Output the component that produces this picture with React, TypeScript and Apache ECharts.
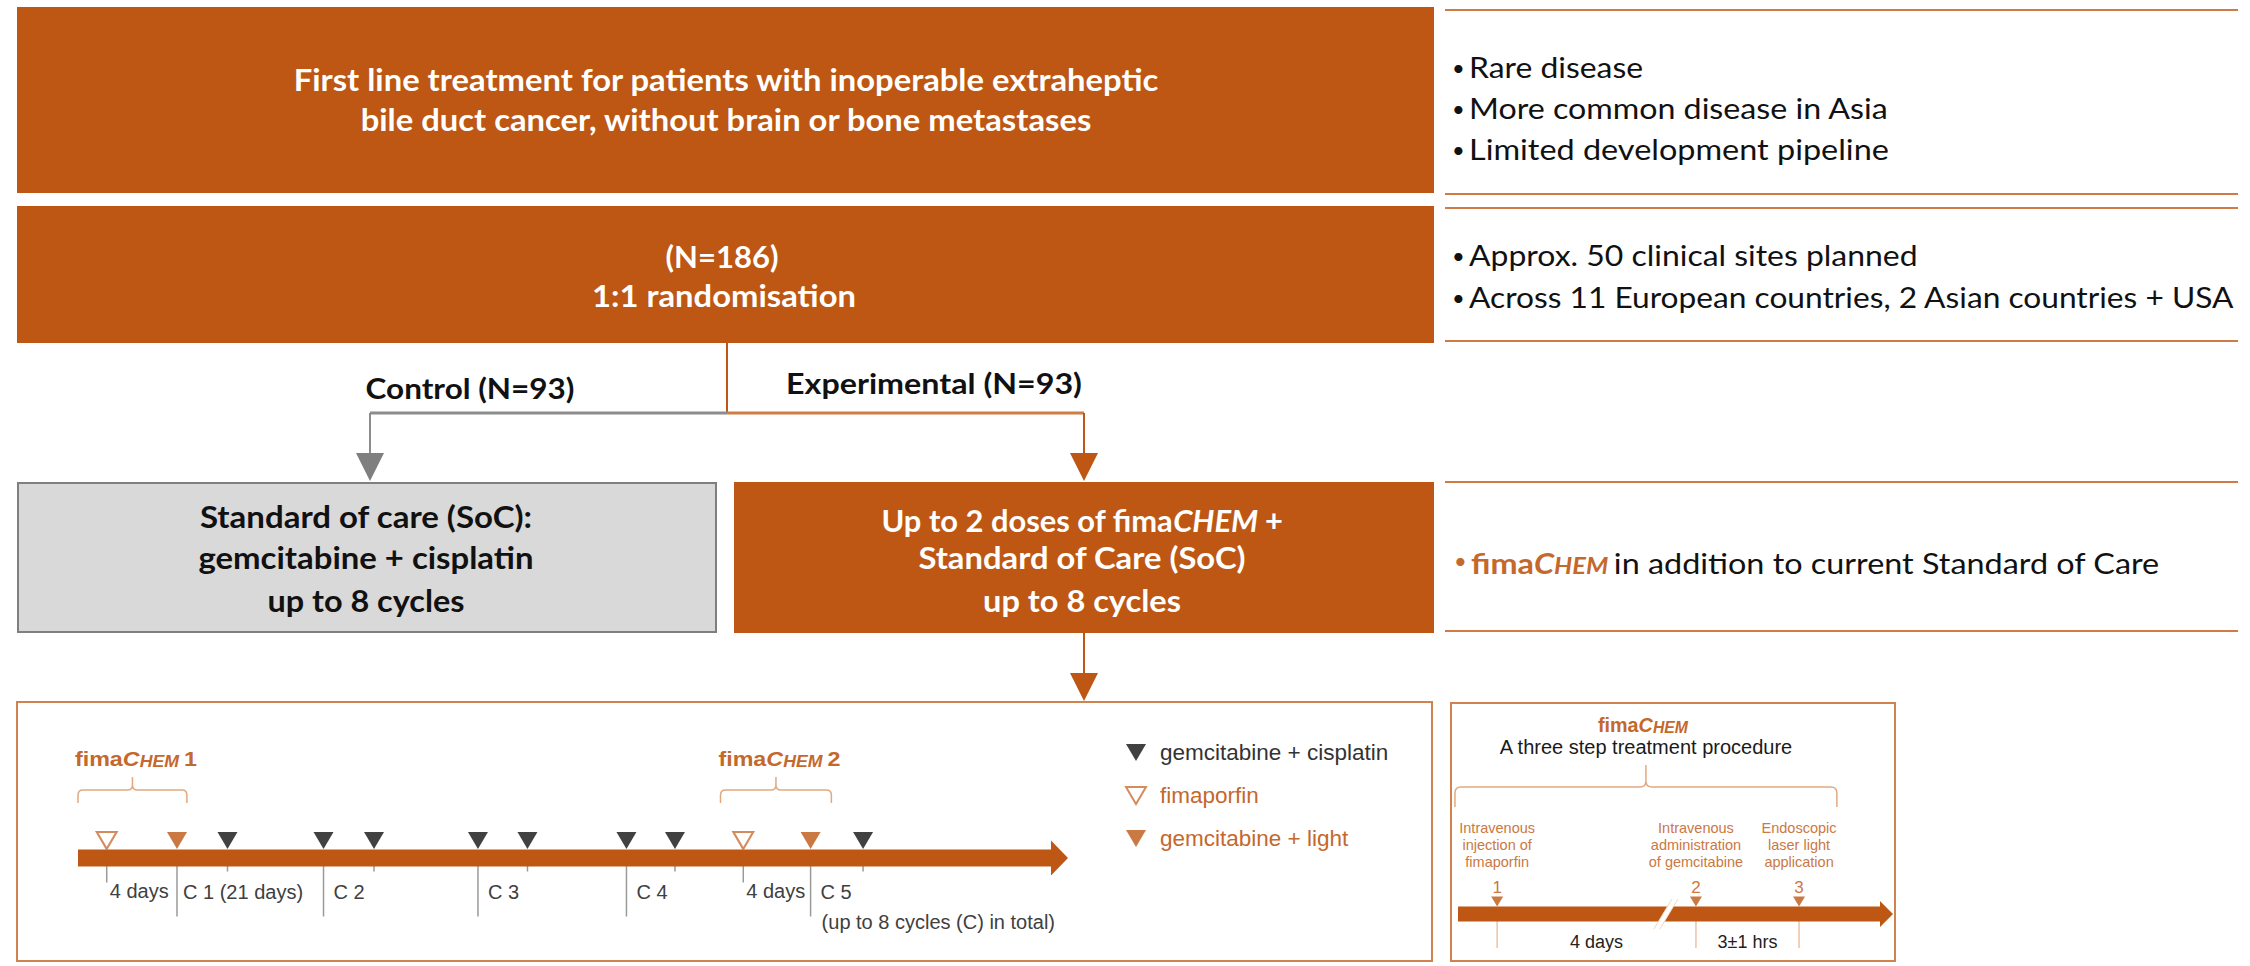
import React, { useEffect, useRef } from 'react';
import * as echarts from 'echarts';

// ---------- palette ----------
const ORANGE = '#BD5713';
const ORANGE_RULE = '#CF7B46';
const ORANGE_TEXT = '#C4682C';
const ORANGE_SOFT = '#E2A97F';
const ORANGE_BORDER = '#D1834F';
const GREY_FILL = '#D9D9D9';
const GREY_LINE = '#7F7F7F';
const DARK = '#111111';
const CAL = 'Lato';
const ARIAL = '"Liberation Sans", Arial, sans-serif';

// ---------- flowchart texts ----------
const eligibilityLines = ['First line treatment for patients with inoperable extraheptic', 'bile duct cancer, without brain or bone metastases'];
const randomisationLines = ['(N=186)', '1:1 randomisation'];
const armLabels = ['Control (N=93)', 'Experimental (N=93)'];
const controlLines = ['Standard of care (SoC):', 'gemcitabine + cisplatin', 'up to 8 cycles'];
const experimentalLines = ['Up to 2 doses of fima', 'Standard of Care (SoC)', 'up to 8 cycles'];
const notesDisease = ['Rare disease', 'More common disease in Asia', 'Limited development pipeline'];
const notesSites = ['Approx. 50 clinical sites planned', 'Across 11 European countries, 2 Asian countries + USA'];
const noteAddition = 'in addition to current Standard of Care';

// ---------- timeline 1 (schematic position along the arrow, 0..100) ----------
const fimaporfinPos = [2.9, 67.2];
const gemLightPos = [10.0, 74.0];
const gemCisPos = [15.1, 24.8, 29.9, 40.4, 45.4, 55.4, 60.3, 79.3];
const cycleStarts = [10.0, 24.8, 40.4, 55.4, 74.0];
const cycleLabels = ['C 1 (21 days)', 'C 2', 'C 3', 'C 4', 'C 5'];
const cycleNote = '(up to 8 cycles (C) in total)';
const fimaWindow = '4 days';
const fimaBraces = [[0, 11.0], [64.9, 76.1]];
const fimaBraceNums = ['1', '2'];
const legendNames = ['gemcitabine + cisplatin', 'fimaporfin', 'gemcitabine + light'];

// ---------- timeline 2 (schematic position, 0..100) ----------
const stepPos = [9.0, 54.7, 78.4];
const stepNums = ['1', '2', '3'];
const stepTexts = [
  ['Intravenous', 'injection of', 'fimaporfin'],
  ['Intravenous', 'administration', 'of gemcitabine'],
  ['Endoscopic', 'laser light', 'application'],
];
const stepIntervals = ['4 days', '3±1 hrs'];
const stepBreak = 47.8;
const stepBrace = [-0.7, 87.1];
const procedureTitle = 'A three step treatment procedure';

// ---------- text helper ----------
type Seg = { t: string; size: number; fam: string; w?: string; it?: boolean; c: string };
let mctx: any = null;
function segFont(s: Seg) {
  return `${s.it ? 'italic' : 'normal'} ${s.w || 'normal'} ${s.size}px ${s.fam}`;
}
function measure(segs: Seg[]) {
  if (!mctx) mctx = document.createElement('canvas').getContext('2d');
  let w = 0;
  for (const s of segs) {
    mctx.font = segFont(s);
    w += mctx.measureText(s.t).width;
  }
  return w;
}
function textEl(x: number, y: number, segs: Seg[], align = 'center', target?: number) {
  const sx = target ? target / measure(segs) : 1;
  const base: any = { align, verticalAlign: 'middle', textAlign: align, textVerticalAlign: 'middle' };
  let style: any;
  if (segs.length === 1) {
    const s = segs[0];
    style = {
      ...base, text: s.t, fontSize: s.size, fontFamily: s.fam,
      fontWeight: s.w || 'normal', fontStyle: s.it ? 'italic' : 'normal', fill: s.c,
    };
  } else {
    const maxSize = Math.max(...segs.map((s) => s.size));
    const rich: any = {};
    segs.forEach((s, i) => {
      rich['s' + i] = {
        fontSize: s.size, fontFamily: s.fam, fontWeight: s.w || 'normal',
        fontStyle: s.it ? 'italic' : 'normal', fill: s.c, verticalAlign: 'bottom', lineHeight: maxSize * 1.2,
      };
    });
    style = { ...base, text: segs.map((s, i) => `{s${i}|${s.t}}`).join(''), rich };
  }
  return { type: 'text', x, y, scaleX: sx, silent: true, style };
}
const fimaSegs = (size: number, fam: string, c: string, tail: string, small = 0.78): Seg[] => {
  const segs: Seg[] = [
    { t: 'fima', size, fam, w: 'bold', c },
    { t: 'C', size, fam, w: 'bold', it: true, c },
    { t: 'HEM' + (tail ? ' ' : ''), size: Math.round(size * small), fam, w: 'bold', it: true, c },
  ];
  if (tail) segs.push({ t: tail, size, fam, w: 'bold', c });
  return segs;
};
function bracePath(x1: number, x2: number, yb: number, yh: number, yt: number, r: number) {
  const xm = (x1 + x2) / 2;
  return `M${x1},${yb} L${x1},${yh + r} Q${x1},${yh} ${x1 + r},${yh} L${xm - r},${yh} Q${xm},${yh} ${xm},${yh - r} L${xm},${yt} M${xm},${yh - r} Q${xm},${yh} ${xm + r},${yh} L${x2 - r},${yh} Q${x2},${yh} ${x2},${yh + r} L${x2},${yb}`;
}
function arrowRender(h: number, H: number, L: number) {
  return (params: any, api: any) => {
    const a = api.coord([api.value(0), 0]);
    const b = api.coord([api.value(2), 0]);
    const yc = a[1];
    return {
      type: 'polygon',
      shape: { points: [[a[0], yc - h / 2], [b[0] - L, yc - h / 2], [b[0] - L, yc - H / 2], [b[0], yc], [b[0] - L, yc + H / 2], [b[0] - L, yc + h / 2], [a[0], yc + h / 2]] },
      style: { fill: ORANGE },
    };
  };
}

const DOWN_TRI = 'path://M0,0L20,0L10,17Z';

function buildOption() {
  const g: any[] = [];
  const rect = (x: number, y: number, w: number, h: number, style: any) => g.push({ type: 'rect', silent: true, shape: { x, y, width: w, height: h }, style });
  const line = (x1: number, y1: number, x2: number, y2: number, stroke: string, lw: number) => g.push({ type: 'line', silent: true, shape: { x1, y1, x2, y2 }, style: { stroke, lineWidth: lw } });
  const tri = (cx: number, top: number, w: number, h: number, fill: string) => g.push({ type: 'polygon', silent: true, shape: { points: [[cx - w / 2, top], [cx + w / 2, top], [cx, top + h]] }, style: { fill } });

  rect(17, 7, 1417, 186, { fill: ORANGE });
  rect(17, 206, 1417, 137, { fill: ORANGE });
  rect(18, 483, 698, 149, { fill: GREY_FILL, stroke: GREY_LINE, lineWidth: 2 });
  rect(734, 482, 700, 151, { fill: ORANGE });
  rect(17, 702, 1415, 259, { fill: 'none', stroke: ORANGE_BORDER, lineWidth: 2 });
  rect(1451, 703, 444, 258, { fill: 'none', stroke: ORANGE_BORDER, lineWidth: 2 });
  [10, 194, 208, 341, 482, 631].forEach((y) => line(1445, y, 2238, y, ORANGE_RULE, 2));
  line(727, 343, 727, 413, ORANGE, 2);
  line(370, 413, 727, 413, '#8C8C8C', 3);
  line(727, 413, 1084, 413, '#D07C46', 3);
  line(370, 413, 370, 456, '#8C8C8C', 2);
  tri(370, 453, 28, 28, GREY_LINE);
  line(1084, 413, 1084, 456, ORANGE, 2);
  tri(1084, 453, 28, 28, ORANGE);
  line(1084, 633, 1084, 675, ORANGE, 2);
  tri(1084, 673, 28, 28, ORANGE);

  const B = (t: string, c: string, size = 30): Seg => ({ t, size, fam: CAL, w: 'bold', c });
  const R = (t: string, c = DARK, size = 28): Seg => ({ t, size, fam: CAL, c });

  g.push(textEl(726, 80, [B(eligibilityLines[0], '#fff')], 'center', 866));
  g.push(textEl(726, 120, [B(eligibilityLines[1], '#fff')], 'center', 732));
  g.push(textEl(722, 257, [B(randomisationLines[0], '#fff')], 'center', 113));
  g.push(textEl(724, 296, [B(randomisationLines[1], '#fff')], 'center', 264));
  g.push(textEl(470, 388, [B(armLabels[0], DARK, 28)], 'center', 209));
  g.push(textEl(934, 383, [B(armLabels[1], DARK, 28)], 'center', 296));
  const boxYs = [517, 558, 600];
  const ctrlW = [333, 335, 197];
  controlLines.forEach((t, i) => g.push(textEl(366, boxYs[i], [B(t, DARK)], 'center', ctrlW[i])));
  g.push(textEl(1082, boxYs[0], [
    B(experimentalLines[0], '#fff'),
    { t: 'CHEM ', size: 30, fam: CAL, w: 'bold', it: true, c: '#fff' },
    B('+', '#fff'),
  ], 'center', 402));
  g.push(textEl(1082, boxYs[1], [B(experimentalLines[1], '#fff')], 'center', 328));
  g.push(textEl(1082, boxYs[2], [B(experimentalLines[2], '#fff')], 'center', 198));

  const bullet = (x: number, y: number, c = DARK) => g.push(textEl(x, y, [R('•', c, 22)], 'left'));
  const ys1 = [67, 108, 149];
  const w1 = [174, 420, 420];
  notesDisease.forEach((t, i) => {
    bullet(1452, ys1[i]);
    g.push(textEl(1469, ys1[i], [R(t)], 'left', w1[i]));
  });
  const ys2 = [255, 297];
  const w2 = [449, 766];
  notesSites.forEach((t, i) => {
    bullet(1452, ys2[i]);
    g.push(textEl(1469, ys2[i], [R(t)], 'left', w2[i]));
  });
  bullet(1454, 560, ORANGE_TEXT);
  g.push(textEl(1471, 560, [
    { t: 'fima', size: 28, fam: CAL, w: 'bold', c: ORANGE_TEXT },
    { t: 'C', size: 28, fam: CAL, w: 'bold', it: true, c: ORANGE_TEXT },
    { t: 'HEM ', size: 22, fam: CAL, w: 'bold', it: true, c: ORANGE_TEXT },
    R(noteAddition),
  ], 'left', 689));

  // bottom-right header
  g.push(textEl(1643, 723, fimaSegs(20, ARIAL, ORANGE_TEXT, ''), 'center', 90));
  g.push(textEl(1646, 747, [{ t: procedureTitle, size: 20, fam: ARIAL, c: '#1a1a1a' }], 'center'));

  const A = (t: string, size: number, c: string): Seg => ({ t, size, fam: ARIAL, c });

  const tri1 = { type: 'scatter', xAxisIndex: 0, yAxisIndex: 0, symbol: 'triangle', symbolRotate: 180, symbolSize: [20, 17], symbolOffset: [0, -17.5], z: 4, silent: true };
  const ticks1 = [
    ...fimaporfinPos.map((p) => [p, 0, 16]),
    ...gemLightPos.map((p) => [p, 0, 50]),
    ...gemCisPos.map((p) => [p, 0, cycleStarts.includes(p) ? 50 : 5]),
  ];

  const hollowStyle = { color: '#ffffff', borderColor: '#C96F36', borderWidth: 2 };

  const series: any[] = [
    // ---- timeline 1 ----
    {
      type: 'custom', name: 'bar1', xAxisIndex: 0, yAxisIndex: 0, clip: false, silent: true, z: 2,
      data: [[0, 0, 100]], renderItem: arrowRender(17, 35, 17),
    },
    {
      type: 'custom', name: 'ticks1', xAxisIndex: 0, yAxisIndex: 0, clip: false, silent: true, z: 1,
      data: ticks1,
      renderItem: (params: any, api: any) => {
        const p = api.coord([api.value(0), 0]);
        return { type: 'line', shape: { x1: p[0], y1: p[1] + 8, x2: p[0], y2: p[1] + 8.5 + api.value(2) }, style: { stroke: '#9A9A9A', lineWidth: 1.5 } };
      },
    },
    {
      type: 'custom', name: 'cycles', xAxisIndex: 0, yAxisIndex: 0, clip: false, silent: true, z: 3,
      data: cycleStarts.map((p) => [p, 0]),
      renderItem: (params: any, api: any) => {
        const i = params.dataIndex;
        const p = api.coord([api.value(0), 0]);
        const children: any[] = [textEl(p[0] + (i === 0 ? 6 : 10), p[1] + 34, [A(cycleLabels[i], 20, '#404040')], 'left')];
        if (i === cycleStarts.length - 1) children.push(textEl(p[0] + 11, p[1] + 64, [A(cycleNote, 20, '#404040')], 'left'));
        return { type: 'group', children };
      },
    },
    {
      type: 'custom', name: 'window', xAxisIndex: 0, yAxisIndex: 0, clip: false, silent: true, z: 3,
      data: fimaporfinPos.map((p) => [p, 0]),
      renderItem: (params: any, api: any) => {
        const p = api.coord([api.value(0), 0]);
        return textEl(p[0] + 3, p[1] + 33, [A(fimaWindow, 20, '#404040')], 'left');
      },
    },
    {
      type: 'custom', name: 'braces1', xAxisIndex: 0, yAxisIndex: 0, clip: false, silent: true, z: 3,
      data: fimaBraces.map((b) => [b[0], 0, b[1]]),
      renderItem: (params: any, api: any) => {
        const a = api.coord([api.value(0), 0]);
        const b = api.coord([api.value(2), 0]);
        const yc = a[1];
        const xm = (a[0] + b[0]) / 2;
        return {
          type: 'group',
          children: [
            { type: 'path', shape: { pathData: bracePath(a[0], b[0], yc - 55, yc - 68, yc - 81, 5) }, style: { fill: 'none', stroke: ORANGE_SOFT, lineWidth: 1.5 } },
            textEl(xm + 3.5, yc - 101, fimaSegs(21, ARIAL, ORANGE_TEXT, fimaBraceNums[params.dataIndex]), 'center', 122),
          ],
        };
      },
    },
    { ...tri1, name: legendNames[0], data: gemCisPos.map((p) => [p, 0]), itemStyle: { color: DARK } },
    { ...tri1, name: legendNames[1], data: fimaporfinPos.map((p) => [p, 0]), itemStyle: hollowStyle },
    { ...tri1, name: legendNames[2], data: gemLightPos.map((p) => [p, 0]), itemStyle: { color: ORANGE } },

    // ---- timeline 2 ----
    {
      type: 'custom', name: 'bar2', xAxisIndex: 1, yAxisIndex: 1, clip: false, silent: true, z: 2,
      data: [[0, 0, 100]], renderItem: arrowRender(15, 26, 13),
    },
    {
      type: 'custom', name: 'break2', xAxisIndex: 1, yAxisIndex: 1, clip: false, silent: true, z: 3,
      data: [[stepBreak, 0]],
      renderItem: (params: any, api: any) => {
        const p = api.coord([api.value(0), 0]);
        const x = p[0];
        const y = p[1];
        return {
          type: 'group',
          children: [
            { type: 'polygon', shape: { points: [[x - 10, y + 12], [x - 4, y + 12], [x + 10, y - 12], [x + 4, y - 12]] }, style: { fill: '#ffffff' } },
            { type: 'line', shape: { x1: x - 12, y1: y + 15, x2: x + 6, y2: y - 15 }, style: { stroke: '#F0D6C4', lineWidth: 1 } },
            { type: 'line', shape: { x1: x - 6, y1: y + 15, x2: x + 12, y2: y - 15 }, style: { stroke: '#F0D6C4', lineWidth: 1 } },
          ],
        };
      },
    },
    {
      type: 'custom', name: 'ticks2', xAxisIndex: 1, yAxisIndex: 1, clip: false, silent: true, z: 1,
      data: stepPos.map((p) => [p, 0]),
      renderItem: (params: any, api: any) => {
        const p = api.coord([api.value(0), 0]);
        return { type: 'line', shape: { x1: p[0], y1: p[1] + 7, x2: p[0], y2: p[1] + 34 }, style: { stroke: '#EBC2A5', lineWidth: 1.5 } };
      },
    },
    {
      type: 'custom', name: 'stepLabels', xAxisIndex: 1, yAxisIndex: 1, clip: false, silent: true, z: 3,
      data: stepPos.map((p) => [p, 0]),
      renderItem: (params: any, api: any) => {
        const i = params.dataIndex;
        const p = api.coord([api.value(0), 0]);
        const c = '#CB7843';
        const children: any[] = [textEl(p[0], p[1] - 27, [A(stepNums[i], 17, c)], 'center')];
        stepTexts[i].forEach((t, k) => children.push(textEl(p[0], p[1] - 86 + k * 17, [A(t, 14.5, c)], 'center')));
        return { type: 'group', children };
      },
    },
    {
      type: 'custom', name: 'intervals', xAxisIndex: 1, yAxisIndex: 1, clip: false, silent: true, z: 3,
      data: stepIntervals.map((t, i) => [(stepPos[i] + stepPos[i + 1]) / 2, 0]),
      renderItem: (params: any, api: any) => {
        const p = api.coord([api.value(0), 0]);
        return textEl(p[0], p[1] + 28, [A(stepIntervals[params.dataIndex], 18, '#222222')], 'center');
      },
    },
    {
      type: 'custom', name: 'brace2', xAxisIndex: 1, yAxisIndex: 1, clip: false, silent: true, z: 3,
      data: [[stepBrace[0], 0, stepBrace[1]]],
      renderItem: (params: any, api: any) => {
        const a = api.coord([api.value(0), 0]);
        const b = api.coord([api.value(2), 0]);
        const yc = a[1];
        return { type: 'path', shape: { pathData: bracePath(a[0], b[0], yc - 107, yc - 127, yc - 149, 6) }, style: { fill: 'none', stroke: ORANGE_SOFT, lineWidth: 1.5 } };
      },
    },
    {
      type: 'scatter', name: 'steps', xAxisIndex: 1, yAxisIndex: 1, symbol: 'triangle', symbolRotate: 180,
      symbolSize: [12, 10], symbolOffset: [0, -12.5], z: 4, silent: true,
      data: stepPos.map((p) => [p, 0]), itemStyle: { color: ORANGE },
    },
  ];

  return {
    animation: false,
    backgroundColor: '#ffffff',
    grid: [
      { left: 78, width: 990, top: 808, height: 100 },
      { left: 1458, width: 435, top: 864, height: 100 },
    ],
    xAxis: [
      { gridIndex: 0, type: 'value', min: 0, max: 100, show: false },
      { gridIndex: 1, type: 'value', min: 0, max: 100, show: false },
    ],
    yAxis: [
      { gridIndex: 0, type: 'value', min: -1, max: 1, show: false },
      { gridIndex: 1, type: 'value', min: -1, max: 1, show: false },
    ],
    legend: {
      left: 1125, top: 741, padding: 0, orient: 'vertical', itemWidth: 20, itemHeight: 17, itemGap: 20,
      selectedMode: false, symbolRotate: 0,
      data: [
        { name: legendNames[0], icon: DOWN_TRI, itemStyle: { color: DARK }, textStyle: { color: '#333333' } },
        { name: legendNames[1], icon: DOWN_TRI, itemStyle: hollowStyle, textStyle: { color: ORANGE_TEXT } },
        { name: legendNames[2], icon: DOWN_TRI, itemStyle: { color: ORANGE }, textStyle: { color: ORANGE_TEXT } },
      ],
      textStyle: { fontFamily: ARIAL, fontSize: 22.5, lineHeight: 18, padding: [0, 0, 0, 9] },
    },
    graphic: { elements: g },
    series,
  };
}

export default function App() {
  const ref = useRef<HTMLDivElement>(null);
  useEffect(() => {
    document.body.style.margin = '0';
    const chart = echarts.init(ref.current as HTMLDivElement, null, { renderer: 'svg' });
    chart.setOption(buildOption() as any);
    return () => chart.dispose();
  }, []);
  return <div ref={ref} style={{ position: 'absolute', left: 0, top: 0, width: 2250, height: 966, background: '#fff' }} />;
}
